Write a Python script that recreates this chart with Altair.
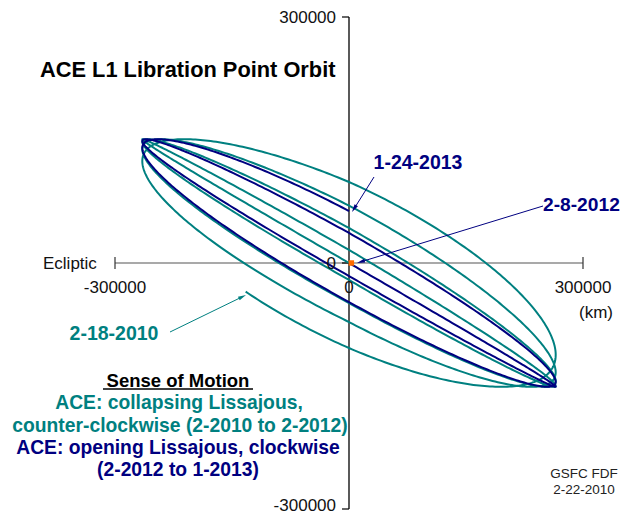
import math
import numpy as np
import pandas as pd
import altair as alt

# ---------------- values ----------------
AMP_Y_KM = 265000          # half-width of the Lissajous box (ecliptic axis)
AMP_Z_KM = 151000          # half-height of the Lissajous box
# loop phase keyframes: orbit angle (deg) and the crossing of the vertical axis (km)
teal_theta_deg = [240, 270, 450, 630, 810, 990, 1170, 1350, 1530, 1710]
teal_cross_km = [103700, 103700, 98800, 72000, 70000, 48800, 42700, 20700, 15900, 0]
navy_theta_deg = [1710, 1890, 2070, 2250, 2430]
navy_cross_km = [0, -15900, -36600, -47600, -63400]

x_tick_values = [-300000, 0, 300000]
x_tick_labels = ["-300000", "0", "300000"]
y_tick_values = [300000, 0, -300000]
y_tick_labels = ["300000", "0", "-300000"]

TEAL = "#008080"
NAVY = "#000080"
FONT = "Liberation Sans, Arial, sans-serif"

# ---------------- layout ----------------
W, H = 612, 508
OX, OY = 341, 255            # pixel position of the origin inside the plot
PX_X, PX_Y = 234, 246        # pixels per 300000 km
XDOM = [(0 - OX) / PX_X * 300000, (W - OX) / PX_X * 300000]
YDOM = [(OY - H) / PX_Y * 300000, OY / PX_Y * 300000]


def dx_(px):
    return XDOM[0] + px / W * (XDOM[1] - XDOM[0])


def dy_(py):
    return YDOM[1] - py / H * (YDOM[1] - YDOM[0])


def orbit(thetas, crosses, name):
    th = np.arange(thetas[0], thetas[-1] + 0.5, 1.0)
    phi_k = np.degrees(np.arcsin(np.array(crosses, dtype=float) / AMP_Z_KM))
    phi = np.interp(th, thetas, phi_k)
    r = np.radians(th)
    p = np.radians(phi)
    return pd.DataFrame({
        "x": AMP_Y_KM * np.cos(r),
        "y": -AMP_Z_KM * np.cos(r + p),
        "order": np.arange(len(th)),
        "series": name,
    })


xs = alt.Scale(domain=XDOM, nice=False, zero=False)
ys = alt.Scale(domain=YDOM, nice=False, zero=False)
X = lambda f: alt.X(f, scale=xs, axis=None)
Y = lambda f: alt.Y(f, scale=ys, axis=None)

layers = []


def line_layer(df, color, width):
    return alt.Chart(df).mark_line(strokeWidth=width, color=color).encode(
        x=X("x:Q"), y=Y("y:Q"), order="order:Q")


def rule(x0, y0, x1, y1, color, width):
    df = pd.DataFrame({"x": [x0], "y": [y0], "x2": [x1], "y2": [y1]})
    return alt.Chart(df).mark_rule(color=color, strokeWidth=width).encode(
        x=X("x:Q"), y=Y("y:Q"), x2="x2:Q", y2="y2:Q")


def label(text, px, py, size, color="#000000", bold=False, align="center"):
    df = pd.DataFrame({"t": [text], "x": [dx_(px)], "y": [dy_(py)]})
    return alt.Chart(df).mark_text(
        font=FONT, fontSize=size, fontWeight="bold" if bold else "normal",
        color=color, align=align, baseline="middle").encode(
        x=X("x:Q"), y=Y("y:Q"), text="t:N")


def arrow(x0, y0, x1, y1, color, width=1.0, head=64):
    r = math.sqrt(head) / 2
    L = math.hypot(x1 - x0, y1 - y0)
    ux, uy = (x1 - x0) / L, (y1 - y0) / L
    cx, cy = x1 - ux * r, y1 - uy * r
    ang = round(math.degrees(math.atan2(ux, -uy)) % 360, 1)
    shaft = rule(dx_(x0), dy_(y0), dx_(cx), dy_(cy), color, width)
    tdf = pd.DataFrame({"x": [dx_(cx)], "y": [dy_(cy)]})
    tip = alt.Chart(tdf).mark_point(shape="M0,-1L-0.5,1L0.5,1Z", filled=True, size=head,
                                    angle=ang, color=color, opacity=1).encode(
        x=X("x:Q"), y=Y("y:Q"))
    return [shaft, tip]


# axes
layers.append(rule(x_tick_values[0], 0, x_tick_values[-1], 0, "#555555", 1.2))
layers.append(rule(0, y_tick_values[0], 0, y_tick_values[-1], "#000000", 1.3))
for v in (x_tick_values[0], x_tick_values[-1]):
    layers.append(rule(v, dy_(OY - 6), v, dy_(OY + 6), "#333333", 1.2))
for v in y_tick_values:
    layers.append(rule(dx_(OX - 7), v, 0, v, "#000000", 1.2))

# orbit
layers.append(line_layer(orbit(teal_theta_deg, teal_cross_km, "collapsing"), TEAL, 2))
layers.append(line_layer(orbit(navy_theta_deg, navy_cross_km, "opening"), NAVY, 2))

# origin marker
odf = pd.DataFrame({"x": [3000], "y": [0]})
layers.append(alt.Chart(odf).mark_square(size=30, color="#ff6a00", opacity=1).encode(
    x=X("x:Q"), y=Y("y:Q")))

# tick labels
xl_df = pd.DataFrame({"x": x_tick_values, "t": x_tick_labels, "y": [0, 0, 0]})
layers.append(alt.Chart(xl_df).mark_text(font=FONT, fontSize=17, dy=25, color="#111111").encode(
    x=X("x:Q"), y=Y("y:Q"), text="t:N"))
yl_df = pd.DataFrame({"y": y_tick_values[:2], "t": y_tick_labels[:2], "x": [0, 0]})
layers.append(alt.Chart(yl_df).mark_text(font=FONT, fontSize=17, align="right", dx=-13, dy=1,
                                         color="#111111").encode(
    x=X("x:Q"), y=Y("y:Q"), text="t:N"))
yl_df2 = pd.DataFrame({"y": y_tick_values[2:], "t": y_tick_labels[2:], "x": [0]})
layers.append(alt.Chart(yl_df2).mark_text(font=FONT, fontSize=17, align="right", dx=-13, dy=-3,
                                          color="#111111").encode(
    x=X("x:Q"), y=Y("y:Q"), text="t:N"))

layers += [
    label("ACE L1 Libration Point Orbit", 32, 62, 21.8, bold=True, align="left"),
    label("Ecliptic", 35, 256, 17, color="#111111", align="left"),
    label("(km)", 588, 305, 17, color="#111111"),
    label("1-24-2013", 410, 155, 19.5, NAVY, True),
    label("2-8-2012", 535, 197, 19.2, NAVY, True, "left"),
    label("2-18-2010", 106, 326, 19.5, TEAL, True),
    label("Sense of Motion", 170, 373, 18.5, "#000000", True),
    label("ACE: collapsing Lissajous,", 171, 395, 19.3, TEAL, True),
    label("counter-clockwise (2-2010 to 2-2012)", 172, 418, 19.3, TEAL, True),
    label("ACE: opening Lissajous, clockwise", 170, 440, 19.3, NAVY, True),
    label("(2-2012 to 1-2013)", 170, 462, 19.3, NAVY, True),
    label("GSFC FDF", 576, 466, 13.5, "#222222"),
    label("2-22-2010", 576, 482, 13.5, "#222222"),
]
layers.append(rule(dx_(95), dy_(381), dx_(245), dy_(381), "#000000", 1.3))

layers += arrow(366, 169, 344, 204, NAVY)
layers += arrow(535, 198, 349, 255, NAVY)
layers += arrow(162, 324, 238, 287, TEAL)

chart = alt.layer(*layers).properties(
    width=W, height=H, padding=0, autosize=alt.AutoSizeParams(type="none"),
    background="white",
).configure_view(stroke=None)

chart.save("out.html", embed_options={"renderer": "svg", "actions": False})
